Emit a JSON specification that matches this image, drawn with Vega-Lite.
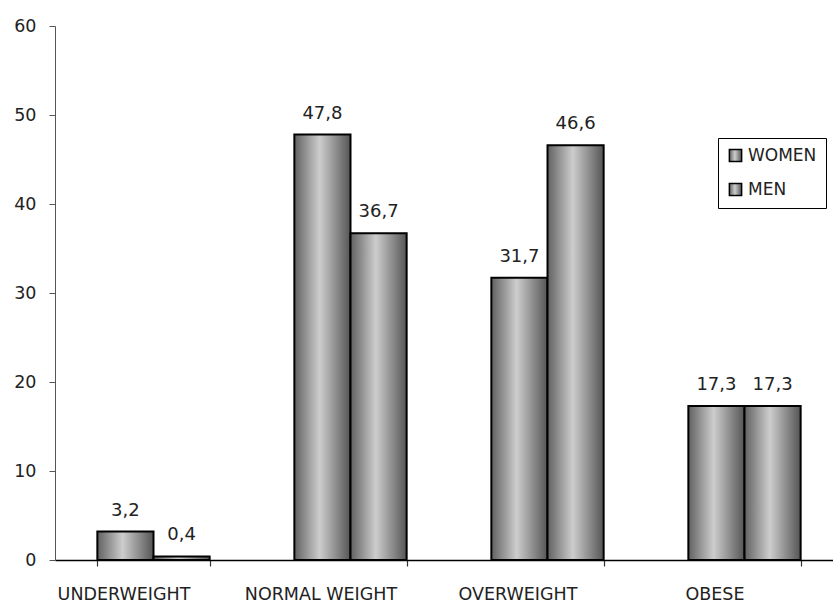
{
  "$schema": "https://vega.github.io/schema/vega-lite/v6.json",
  "autosize": {"type": "none"},
  "width": 778,
  "height": 534,
  "padding": {"left": 55, "top": 26, "right": 0, "bottom": 43},
  "background": "white",
  "config": {
    "view": {"stroke": null},
    "font": "DejaVu Sans",
    "locale": {"number": {"decimal": ",", "thousands": ".", "grouping": [3], "currency": ["", " €"]}}
  },
  "data": {
    "values": [
      {"category": "UNDERWEIGHT", "sex": "WOMEN", "value": 3.2},
      {"category": "UNDERWEIGHT", "sex": "MEN", "value": 0.4},
      {"category": "NORMAL WEIGHT", "sex": "WOMEN", "value": 47.8},
      {"category": "NORMAL WEIGHT", "sex": "MEN", "value": 36.7},
      {"category": "OVERWEIGHT", "sex": "WOMEN", "value": 31.7},
      {"category": "OVERWEIGHT", "sex": "MEN", "value": 46.6},
      {"category": "OBESE", "sex": "WOMEN", "value": 17.3},
      {"category": "OBESE", "sex": "MEN", "value": 17.3}
    ]
  },
  "encoding": {
    "x": {
      "field": "category", "type": "nominal", "sort": null, "title": null,
      "scale": {"range": [0, 788], "paddingInner": 0.43, "paddingOuter": 0.215},
      "axis": {
        "labelAngle": 0, "tickBand": "extent", "labelOffset": -30,
        "domainColor": "black", "domainWidth": 1.5, "tickColor": "#333", "tickSize": 6, "tickWidth": 1.2,
        "labelFontSize": 17.5, "labelColor": "#222", "labelPadding": 19
      }
    },
    "xOffset": {"field": "sex", "type": "nominal", "sort": ["WOMEN", "MEN"], "scale": {"paddingInner": 0, "paddingOuter": 0}},
    "y": {
      "field": "value", "type": "quantitative", "title": null,
      "scale": {"domain": [0, 60], "nice": false},
      "axis": {
        "grid": false, "values": [0, 10, 20, 30, 40, 50, 60], "format": "d",
        "domainColor": "#555", "tickColor": "#555", "tickSize": 6,
        "labelFontSize": 17.5, "labelColor": "#222", "labelPadding": 13
      }
    }
  },
  "layer": [
    {
      "mark": {
        "type": "bar",
        "stroke": "black",
        "strokeWidth": 2,
        "fill": {
          "gradient": "linear", "x1": 0, "x2": 1, "y1": 0, "y2": 0,
          "stops": [
            {"offset": 0, "color": "#616161"},
            {"offset": 0.45, "color": "#cdcdcd"},
            {"offset": 1, "color": "#555555"}
          ]
        }
      },
      "encoding": {
        "opacity": {
          "field": "sex", "type": "nominal", "sort": ["WOMEN", "MEN"],
          "scale": {"range": [1, 1]},
          "legend": {
            "title": null, "orient": "none", "legendX": 663, "legendY": 112,
            "symbolType": "square", "symbolSize": 150, "labelFontSize": 17,
            "labelColor": "#222", "rowPadding": 15, "padding": 9,
            "strokeColor": "black", "fillColor": "white", "labelOffset": 4,
            "encode": {
              "symbols": {
                "update": {
                  "fill": {"value": {
                    "gradient": "linear", "x1": 0, "x2": 1, "y1": 0, "y2": 0,
                    "stops": [
                      {"offset": 0, "color": "#616161"},
                      {"offset": 0.45, "color": "#cdcdcd"},
                      {"offset": 1, "color": "#555555"}
                    ]
                  }},
                  "stroke": {"value": "black"},
                  "strokeWidth": {"value": 2},
                  "opacity": {"value": 1}
                }
              }
            }
          }
        }
      }
    },
    {
      "mark": {"type": "text", "baseline": "alphabetic", "dy": -16, "fontSize": 18, "color": "#222"},
      "encoding": {
        "text": {"field": "value", "type": "quantitative", "format": ".1f"}
      }
    }
  ]
}
